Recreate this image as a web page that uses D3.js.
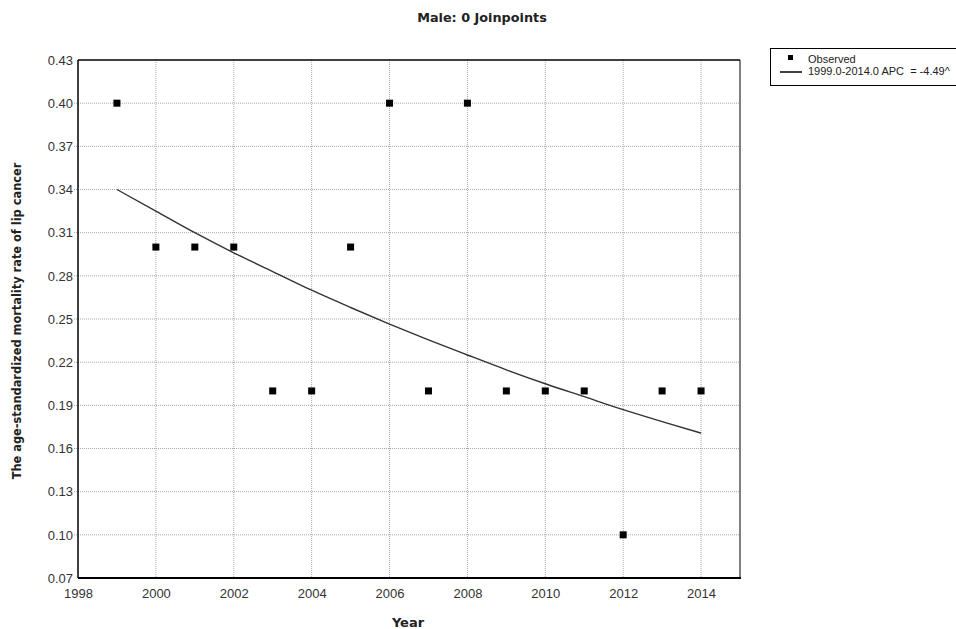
<!DOCTYPE html>
<html>
<head>
<meta charset="utf-8">
<script src="https://cdn.jsdelivr.net/npm/d3@7"></script>
<style>
body { margin: 0; background: #fff; }
svg { display: block; }
</style>
</head>
<body>
<svg id="chart" width="956" height="629"></svg>
<script>
const years = [1999,2000,2001,2002,2003,2004,2005,2006,2007,2008,2009,2010,2011,2012,2013,2014];
const observed = [0.40,0.30,0.30,0.30,0.20,0.20,0.30,0.40,0.20,0.40,0.20,0.20,0.20,0.10,0.20,0.20];
const fitted = [0.340,0.325,0.310,0.296,0.283,0.270,0.258,0.2465,0.2355,0.225,0.2147,0.205,0.196,0.187,0.1787,0.1707];
const xTicks = [1998,2000,2002,2004,2006,2008,2010,2012,2014];
const yTicks = [0.07,0.10,0.13,0.16,0.19,0.22,0.25,0.28,0.31,0.34,0.37,0.40,0.43];
const titleText = "Male: 0 Joinpoints";
const xLabel = "Year";
const yLabel = "The age-standardized mortality rate of lip cancer";
const legendObserved = "Observed";
const legendLine = "1999.0-2014.0 APC  = -4.49^";

const svg = d3.select("#chart");
const L = 78, R = 740, T = 60, B = 578;
const x = d3.scaleLinear().domain([1998, 2015]).range([L, R]);
const y = d3.scaleLinear().domain([0.07, 0.43]).range([B, T]);

// grid
const grid = svg.append("g");
grid.selectAll("line.h").data(yTicks.slice(1, -1)).join("line")
  .attr("x1", L - 4).attr("x2", R)
  .attr("y1", d => y(d)).attr("y2", d => y(d))
  .attr("stroke", "#a8a8a8").attr("stroke-width", 1).attr("stroke-dasharray", "1,1");
grid.selectAll("line.v").data(xTicks.slice(1)).join("line")
  .attr("y1", T).attr("y2", B)
  .attr("x1", d => x(d)).attr("x2", d => x(d))
  .attr("stroke", "#a8a8a8").attr("stroke-width", 1).attr("stroke-dasharray", "1,1");

// axes (labels via d3 axes, domain hidden)
const yAxis = svg.append("g").attr("transform", `translate(${L},0)`)
  .call(d3.axisLeft(y).tickValues(yTicks).tickFormat(d3.format(".2f")).tickSize(0).tickPadding(5));
const xAxis = svg.append("g").attr("transform", `translate(0,${B})`)
  .call(d3.axisBottom(x).tickValues(xTicks).tickFormat(d3.format("d")).tickSize(0).tickPadding(11));
[yAxis, xAxis].forEach(a => {
  a.select(".domain").remove();
  a.selectAll("text").attr("font-family", "Liberation Sans, Arial, sans-serif")
    .attr("font-size", 13).attr("fill", "#333");
});

// frame
svg.append("line").attr("x1", R).attr("x2", R).attr("y1", T).attr("y2", B)
  .attr("stroke", "#808080").attr("stroke-width", 2);
svg.append("line").attr("x1", L).attr("x2", R).attr("y1", T).attr("y2", T)
  .attr("stroke", "#000").attr("stroke-width", 1.5);
svg.append("line").attr("x1", L).attr("x2", L).attr("y1", T).attr("y2", B)
  .attr("stroke", "#000").attr("stroke-width", 1.5);
svg.append("line").attr("x1", L).attr("x2", R + 1).attr("y1", B).attr("y2", B)
  .attr("stroke", "#000").attr("stroke-width", 2);

// fitted line
svg.append("path").datum(years.map((yr, i) => [yr, fitted[i]]))
  .attr("fill", "none").attr("stroke", "#333").attr("stroke-width", 1.4)
  .attr("d", d3.line().x(d => x(d[0])).y(d => y(d[1])).curve(d3.curveMonotoneX));

// observed points
svg.selectAll("rect.pt").data(years.map((yr, i) => [yr, observed[i]])).join("rect")
  .attr("x", d => x(d[0]) - 3.5).attr("y", d => y(d[1]) - 3.5)
  .attr("width", 7).attr("height", 7).attr("fill", "#000");

// title and axis labels
svg.append("text").attr("x", 482).attr("y", 22).attr("text-anchor", "middle")
  .attr("font-family", "DejaVu Sans, Verdana, sans-serif").attr("font-weight", "bold")
  .attr("font-size", 12.8).attr("fill", "#222").text(titleText);
svg.append("text").attr("x", 408).attr("y", 627).attr("text-anchor", "middle")
  .attr("font-family", "DejaVu Sans, Verdana, sans-serif").attr("font-weight", "bold")
  .attr("font-size", 13).attr("fill", "#222").text(xLabel);
svg.append("text").attr("transform", "translate(21,321) rotate(-90)").attr("text-anchor", "middle")
  .attr("font-family", "DejaVu Sans, Verdana, sans-serif").attr("font-weight", "bold")
  .attr("font-size", 11.4).attr("fill", "#222").text(yLabel);

// legend
const lg = svg.append("g");
lg.append("rect").attr("x", 770.5).attr("y", 48.5).attr("width", 200).attr("height", 37)
  .attr("fill", "#fff").attr("stroke", "#000").attr("stroke-width", 1);
lg.append("rect").attr("x", 788).attr("y", 55).attr("width", 5).attr("height", 5).attr("fill", "#000");
lg.append("line").attr("x1", 780).attr("x2", 802).attr("y1", 72).attr("y2", 72)
  .attr("stroke", "#000").attr("stroke-width", 1.5);
lg.append("text").attr("x", 808).attr("y", 63).attr("font-family", "Liberation Sans, Arial, sans-serif")
  .attr("font-size", 11).attr("fill", "#222").text(legendObserved);
lg.append("text").attr("x", 808).attr("y", 75).attr("font-family", "Liberation Sans, Arial, sans-serif")
  .attr("font-size", 11).attr("fill", "#222").style("white-space", "pre").text(legendLine);
</script>
</body>
</html>
